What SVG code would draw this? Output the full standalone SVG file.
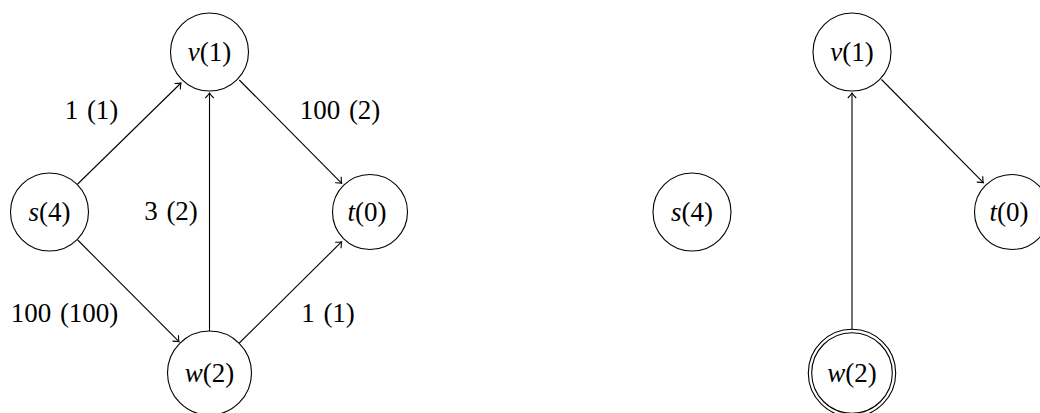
<svg xmlns="http://www.w3.org/2000/svg" width="1040" height="413" viewBox="0 0 1040 413">
<style>
.n{fill:none;stroke:#000;stroke-width:1.1}
.e{fill:none;stroke:#000;stroke-width:1.1;marker-end:url(#ah)}
text{font-family:"Liberation Serif","Times New Roman",serif;font-size:27px;fill:#000;text-anchor:middle;word-spacing:2px}
.i{font-style:italic}
</style>
<defs>
<marker id="ah" markerUnits="userSpaceOnUse" markerWidth="12" markerHeight="12" viewBox="-6 -6 12 12" refX="0" refY="0" orient="auto" overflow="visible">
<path d="M-5,-4.2 Q-2,-1.2 0,0 Q-2,1.2 -5,4.2" fill="none" stroke="#000" stroke-width="1.1"/>
</marker>
</defs>
<rect width="1040" height="413" fill="#fff"/>
<g id="edges">
<line class="e" x1="77.7" y1="184" x2="181" y2="83"/>
<line class="e" x1="209.5" y1="331" x2="209.5" y2="93"/>
<line class="e" x1="239.3" y1="80" x2="341.7" y2="183.3"/>
<line class="e" x1="77.7" y1="240" x2="179" y2="341.7"/>
<line class="e" x1="239.3" y1="343" x2="341.7" y2="241.7"/>
<line class="e" x1="852" y1="329.3" x2="852" y2="93"/>
<line class="e" x1="881.5" y1="79.5" x2="983.3" y2="182.7"/>
</g>
<g id="labels">
<text x="91.5" y="119">1 (1)</text>
<text x="340" y="119">100 (2)</text>
<text x="171" y="220">3 (2)</text>
<text x="64.5" y="322">100 (100)</text>
<text x="328" y="322">1 (1)</text>
</g>
<g id="L_s"><circle class="n" cx="49.5" cy="212" r="39"/><text x="49.5" y="221"><tspan class="i">s</tspan>(4)</text></g>
<g id="L_v"><circle class="n" cx="209.5" cy="52" r="39"/><text x="209.5" y="61"><tspan class="i">v</tspan>(1)</text></g>
<g id="L_t"><circle class="n" cx="370" cy="212" r="37.5"/><text x="367" y="221"><tspan class="i">t</tspan>(0)</text></g>
<g id="L_w"><circle class="n" cx="209.5" cy="373" r="42"/><text x="209.5" y="382"><tspan class="i">w</tspan>(2)</text></g>
<g id="R_s"><circle class="n" cx="692" cy="212" r="39"/><text x="692" y="221"><tspan class="i">s</tspan>(4)</text></g>
<g id="R_v"><circle class="n" cx="852" cy="52" r="39"/><text x="852" y="61"><tspan class="i">v</tspan>(1)</text></g>
<g id="R_t"><circle class="n" cx="1012" cy="212" r="37.5"/><text x="1009" y="221"><tspan class="i">t</tspan>(0)</text></g>
<g id="R_w"><circle class="n" cx="852" cy="373" r="43.7"/><circle class="n" cx="852" cy="373" r="40.3"/><text x="852" y="382"><tspan class="i">w</tspan>(2)</text></g>
</svg>
